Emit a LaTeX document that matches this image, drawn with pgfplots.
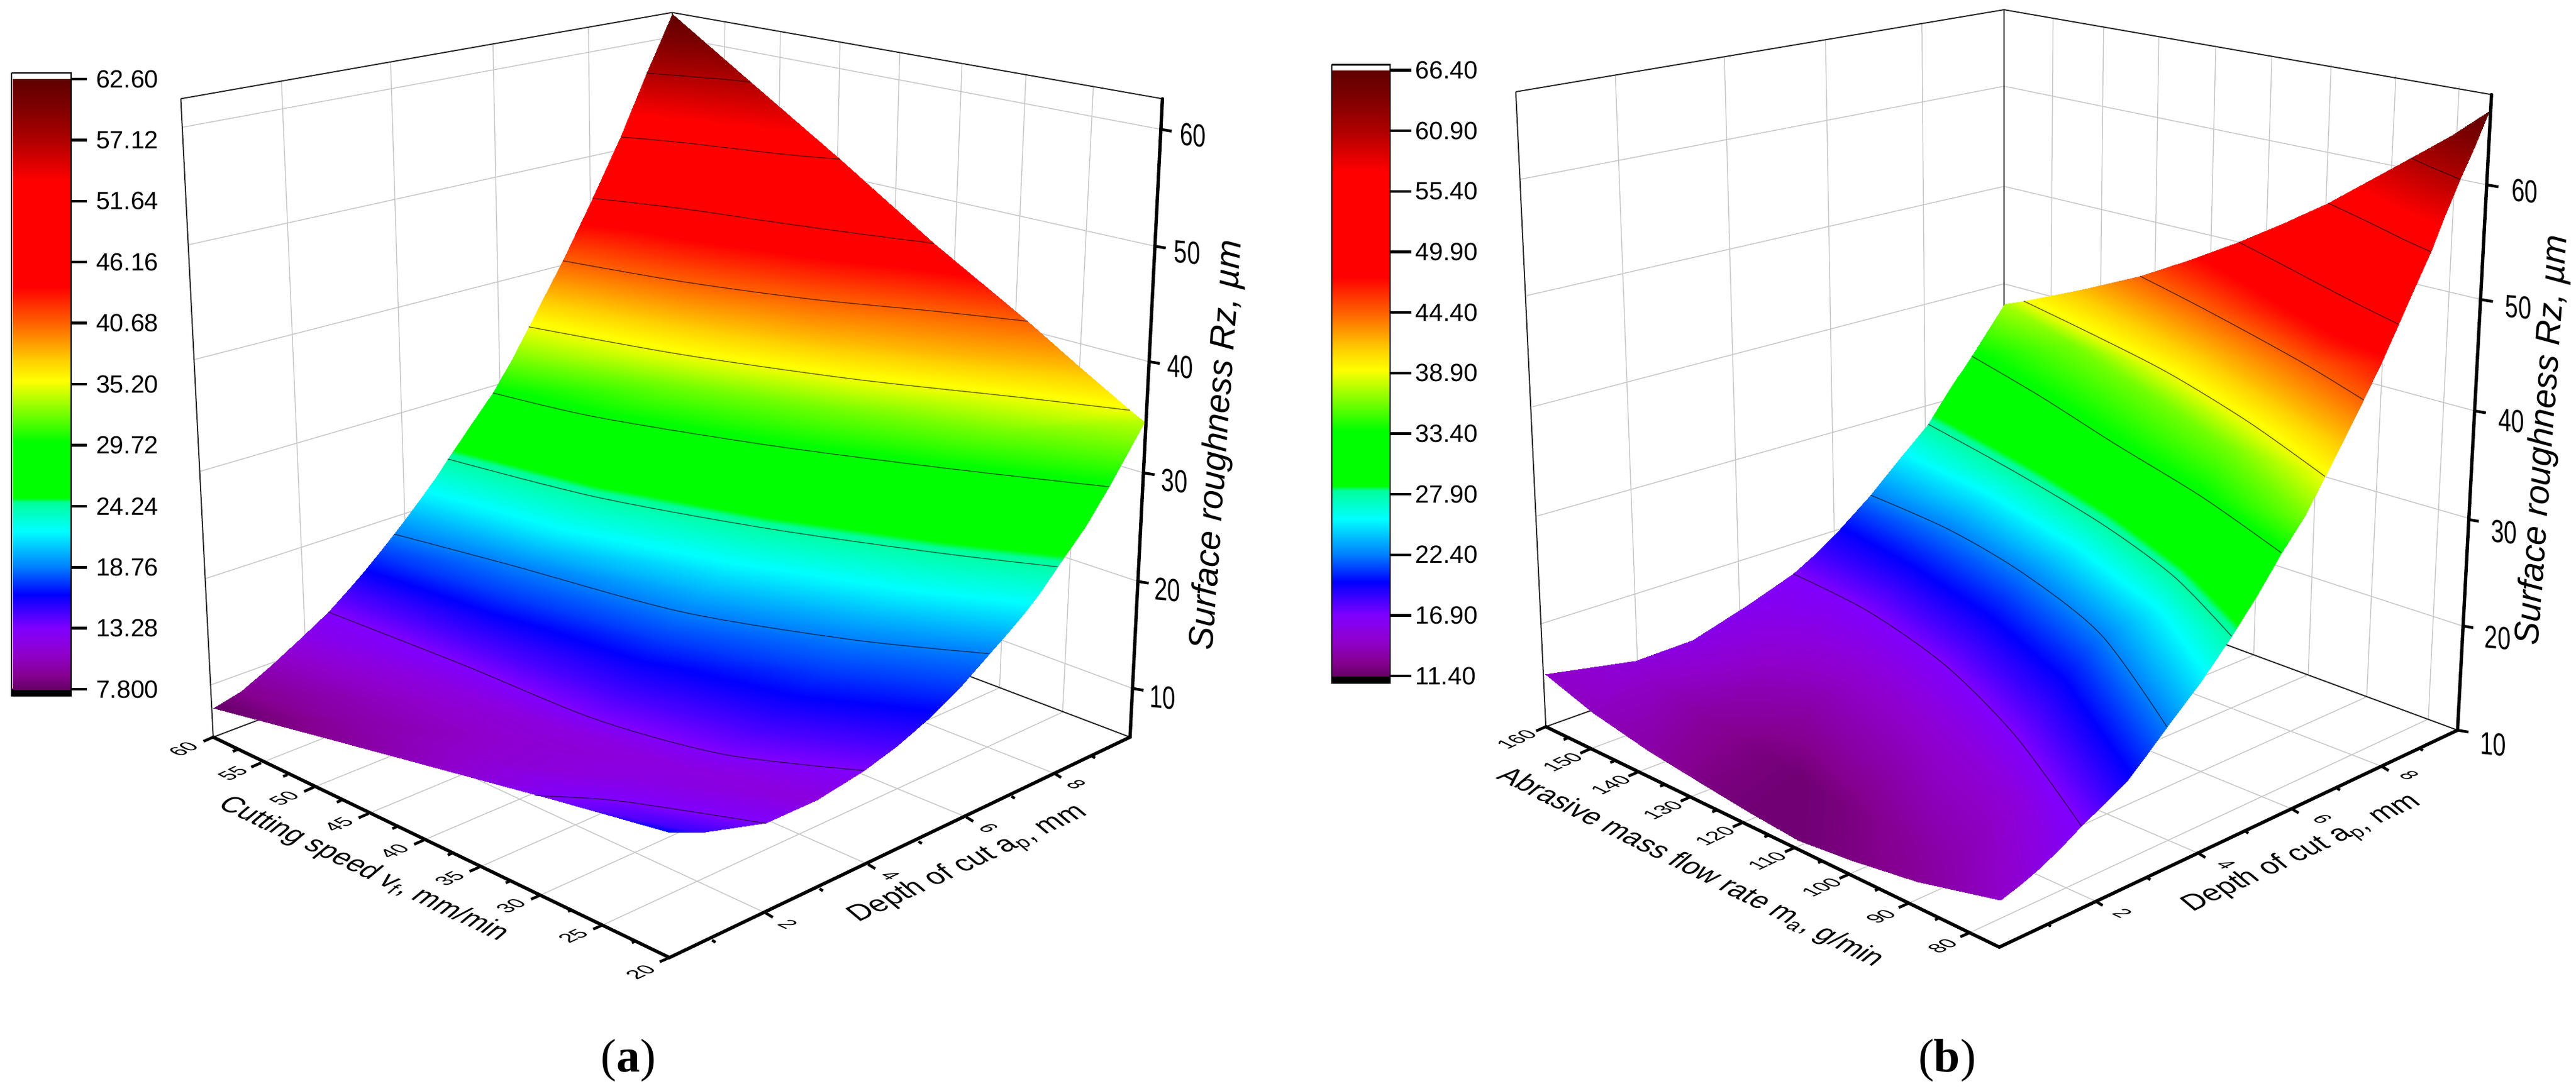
\documentclass[border=0pt]{standalone}
\usepackage{fontspec}
\setmainfont{Liberation Sans}
\newfontfamily\capfont{Liberation Serif}
\usepackage{pgfplots}
\pgfplotsset{compat=1.18}
\pgfplotsset{colormap={rz}{[1pt]
 rgb255(0pt)=(102,0,102); rgb255(12pt)=(133,0,143); rgb255(32pt)=(144,0,204); rgb255(55pt)=(128,0,255);
 rgb255(85pt)=(0,0,255); rgb255(110pt)=(0,128,255); rgb255(142pt)=(0,255,255); rgb255(168pt)=(0,255,153);
 rgb255(172pt)=(0,255,0); rgb255(222pt)=(0,255,0); rgb255(277pt)=(255,255,0); rgb255(295pt)=(255,208,0);
 rgb255(329pt)=(255,96,0); rgb255(361pt)=(255,0,0); rgb255(457pt)=(255,0,0); rgb255(493pt)=(176,0,0);
 rgb255(522pt)=(128,0,0); rgb255(548pt)=(96,0,0)}}
\pgfplotsset{panel/.style={view={0}{90},hide axis,scale only axis,clip=false,
  xmin=0,xmax=1568,ymin=0,ymax=1568,zmin=0,zmax=100,y dir=reverse,height=358.8pt,
  colormap name=rz,anchor=south west}}
\tikzset{gridl/.style={draw=black!22,line width=0.3pt},
 boxl/.style={draw=black!85,line width=0.4pt},
 axl/.style={draw=black,line width=1.1pt,line cap=round},
 tkl/.style={draw=black,line width=0.9pt},
 ctr/.style={draw=black,draw opacity=0.6,line width=0.28pt,smooth},
 cbl/.style={font=\fontsize{8.2}{10}\selectfont,anchor=west,inner sep=0pt},
 zl/.style={font=\fontsize{10}{12}\selectfont,inner sep=0pt,cm={.77,-.07,0,1.05,(0,0)}},
 vl/.style={font=\fontsize{10}{12}\selectfont,inner sep=0pt,cm={.61,.285,-.615,.293,(0,0)}},
 al/.style={font=\fontsize{10}{12}\selectfont,inner sep=0pt,cm={.605,-.289,.61,.284,(0,0)}}}
\newcommand\gl[4]{\addplot3[gridl] coordinates {(#1,#2,0)(#3,#4,0)};}
\newcommand\bl[4]{\addplot3[boxl] coordinates {(#1,#2,0)(#3,#4,0)};}
\newcommand\wl[6]{\addplot3[gridl] coordinates {(#1,#2,0)(#3,#4,0)(#5,#6,0)};}
\newcommand\tkv[2]{\draw[tkl] (axis cs:#1,#2,0) -- ++(-3.2pt,-1.4pt);}
\newcommand\tkvm[2]{\draw[tkl] (axis cs:#1,#2,0) -- ++(-1.4pt,-.6pt);}
\newcommand\tka[2]{\draw[tkl] (axis cs:#1,#2,0) -- ++(2.3pt,-1.4pt);}
\newcommand\tkam[2]{\draw[tkl] (axis cs:#1,#2,0) -- ++(1.1pt,-.7pt);}
\newcommand\tkz[2]{\draw[tkl] (axis cs:#1,#2,0) -- ++(3.6pt,-.6pt);}
\begin{document}
\begin{tikzpicture}
\useasboundingbox (0,0) rectangle (847.6pt,358.8pt);
% ---------------- panel a
\begin{axis}[panel,at={(0pt,0pt)},width=440pt,point meta min=7.8,point meta max=62.6]
\gl{330}{117}{361}{1008}\gl{458}{89}{480}{953}\gl{578}{63}{592}{901}\gl{690}{39}{697}{852}
\gl{850}{31}{843}{837}\gl{915}{45}{906}{865}\gl{985}{60}{970}{895}\gl{1055}{76}{1035}{926}
\gl{1128}{91}{1101}{956}\gl{1203}{107}{1172}{989}\gl{1282}{124}{1246}{1024}
\wl{214}{183}{788}{53}{1361}{186}\wl{221}{352}{788}{199}{1354}{354}\wl{228}{517}{788}{341}{1347}{520}
\wl{234}{678}{788}{480}{1341}{680}\wl{241}{832}{788}{613}{1334}{836}\wl{247}{985}{788}{745}{1328}{990}
\gl{306}{1097}{843}{837}\gl{368}{1132}{906}{865}\gl{432}{1170}{970}{895}\gl{497}{1208}{1035}{926}
\gl{562}{1247}{1101}{956}\gl{634}{1287}{1172}{989}\gl{707}{1330}{1246}{1024}
\gl{898}{1313}{361}{1008}\gl{1018}{1243}{480}{953}\gl{1133}{1175}{592}{901}\gl{1236}{1112}{697}{852}
\bl{212}{142}{788}{18}\bl{788}{18}{1363}{142}\bl{250}{1060}{212}{142}\bl{788}{18}{788}{810}
\bl{250}{1060}{788}{810}\bl{788}{810}{1325}{1060}
\addplot3[surf,shader=interp,mesh/cols=5] table {
250 1018 7.8
386 1063 9.2
521 1107 11
650 1150 13.5
786 1197 16.5
283 994 9
420 1040 9.8
555 1090 11.2
690 1143 13.2
822 1197 15
318 957 10.4
465 1005 10.8
610 1065 11.3
755 1125 12.2
898 1183 13.28
355 915 12.2
505 975 12
655 1045 11.9
805 1105 11.9
958 1150 11.8
385 880 13.28
545 957 13.28
700 1035 13.28
850 1085 13.28
1013 1108 13.28
405 853 14.6
560 925 14.6
725 1000 14.6
890 1050 14.6
1052 1072 14.6
424 826 16
575 890 16
750 960 16
925 1010 16
1090 1032 16
443 797 17.4
588 855 17.4
775 920 17.4
962 965 17.4
1126 988 17.4
462 768 18.76
600 813 18.76
800 880 18.76
1000 920 18.76
1160 940 18.76
478 742 20.1
625 792 20.1
825 850 20.1
1025 889 20.1
1182 910 20.1
494 716 21.5
650 770 21.5
850 820 21.5
1050 858 21.5
1203 878 21.5
510 688 22.9
675 742 22.9
875 790 22.9
1075 826 22.9
1222 847 22.9
525 660 24.24
700 715 24.24
900 760 24.24
1100 795 24.24
1240 815 24.24
552 612 27
700 657 27
900 700 27
1100 733 27
1272 758 27
578 565 29.72
700 600 29.72
900 640 29.72
1100 672 29.72
1300 700 29.72
600 517 32.5
800 555 32.5
1000 592 32.5
1170 620 32.5
1342 607 34
620 470 35.2
800 510 35.2
1000 545 35.2
1200 572 35.2
1325 590 35.2
640 422 38
800 457 38
960 488 38
1120 510 38
1265 527 38
660 375 40.68
800 405 40.68
950 430 40.68
1100 448 40.68
1205 462 40.68
695 285 46.16
800 300 46.16
900 318 46.16
1000 335 46.16
1095 350 46.16
728 197 51.64
792 204 51.64
856 213 51.64
920 222 51.64
985 229 51.64
758 105 57.12
788 108 57.12
818 111 57.12
849 114 57.12
880 118 57.12
788 20 62.6
788 20 62.6
788 20 62.6
788 20 62.6
788 20 62.6
};
\addplot3[ctr] coordinates {(627,1144,13.28)(713,1150,13.28)(800,1165,13.28)(898,1184,13.28)};
\addplot3[ctr] coordinates {(385,880,13.28)(545,957,13.28)(700,1035,13.28)(850,1085,13.28)(1013,1108,13.28)};
\addplot3[ctr] coordinates {(462,768,18.76)(600,813,18.76)(800,880,18.76)(1000,920,18.76)(1160,940,18.76)};
\addplot3[ctr] coordinates {(525,660,24.24)(700,715,24.24)(900,760,24.24)(1100,795,24.24)(1240,815,24.24)};
\addplot3[ctr] coordinates {(578,565,29.72)(700,600,29.72)(900,640,29.72)(1100,672,29.72)(1300,700,29.72)};
\addplot3[ctr] coordinates {(620,470,35.2)(800,510,35.2)(1000,545,35.2)(1200,572,35.2)(1325,590,35.2)};
\addplot3[ctr] coordinates {(660,375,40.68)(800,405,40.68)(950,430,40.68)(1100,448,40.68)(1205,462,40.68)};
\addplot3[ctr] coordinates {(695,285,46.16)(800,300,46.16)(900,318,46.16)(1000,335,46.16)(1095,350,46.16)};
\addplot3[ctr] coordinates {(728,197,51.64)(792,204,51.64)(856,213,51.64)(920,222,51.64)(985,229,51.64)};
\addplot3[ctr] coordinates {(758,105,57.12)(788,108,57.12)(818,111,57.12)(849,114,57.12)(880,118,57.12)};
\addplot3[fill=black,draw=black] coordinates {(13.5,991,0)(83.4,991,0)(83.4,1000,0)(13.5,1000,0)(13.5,991,0)};
\addplot3[surf,shader=interp,mesh/cols=2] table {
15 113.6 62.6
82 113.6 62.6
15 991.2 7.8
82 991.2 7.8
};
\addplot3[draw=black,line width=.55pt] coordinates {(13.5,105,0)(83.4,105,0)(83.4,1000,0)(13.5,1000,0)(13.5,105,0)};
\foreach \y/\t in {113.6/62.60,201.4/57.12,289.1/51.64,376.9/46.16,464.6/40.68,552.4/35.20,640.2/29.72,727.9/24.24,815.7/18.76,903.4/13.28,991.2/7.800}{
 \edef\temp{\noexpand\draw[tkl] (axis cs:83.4,\y,0) -- ++(5.2pt,0);
  \noexpand\node[cbl] at (axis cs:112,\y,0) {\t};}\temp}
\draw[axl] (axis cs:250,1060,0) -- (axis cs:785,1377,0) -- (axis cs:1325,1060,0) -- (axis cs:1363,142,0);
\tkv{250}{1060}\tkv{306}{1097}\tkv{368}{1132}\tkv{432}{1170}\tkv{497}{1208}\tkv{562}{1247}\tkv{634}{1287}\tkv{707}{1330}\tkv{785}{1377}
\tkvm{278}{1078}\tkvm{337}{1114}\tkvm{400}{1151}\tkvm{465}{1189}\tkvm{530}{1227}\tkvm{598}{1267}\tkvm{671}{1308}\tkvm{746}{1353}
\tka{898}{1313}\tka{1018}{1243}\tka{1133}{1175}\tka{1236}{1112}
\tkam{835}{1352}\tkam{961}{1278}\tkam{1077}{1210}\tkam{1186}{1145}\tkam{1280}{1087}
\tkz{1361}{186}\tkz{1354}{354}\tkz{1347}{520}\tkz{1341}{680}\tkz{1334}{836}\tkz{1328}{990}
\foreach \x/\y/\t in {1399/194/60,1392/363/50,1384/527/40,1377/692/30,1369/848/20,1363/1003/10}{
 \edef\temp{\noexpand\node[zl] at (axis cs:\x,\y,0) {\t};}\temp}
\foreach \x/\y/\t in {215/1077/60,273/1112/55,333/1148/50,397/1186/45,462/1224/40,527/1263/35,599/1303/30,672/1346/25,751/1398/20}{
 \edef\temp{\noexpand\node[vl] at (axis cs:\x,\y,0) {\t};}\temp}
\foreach \x/\y/\t in {924/1329/2,1044/1259/4,1159/1191/6,1262/1128/8}{
 \edef\temp{\noexpand\node[al] at (axis cs:\x,\y,0) {\t};}\temp}
\node[font=\fontsize{10}{12}\selectfont,inner sep=0pt,cm={.82,-.39,.72,.6,(0,0)}] at (axis cs:426,1250,0) {Cutting speed v\textsubscript{f}, mm/min};
\node[font=\fontsize{10}{12}\selectfont,inner sep=0pt,cm={.85,.40,-.72,.6,(0,0)}] at (axis cs:1136,1243,0) {Depth of cut a\textsubscript{p}, mm};
\node[font=\fontsize{11.4}{13}\selectfont\itshape,inner sep=0pt,rotate=86] at (axis cs:1428,640,0) {Surface roughness Rz, µm};
\node[font=\fontsize{15.5}{18}\selectfont\capfont,inner sep=0pt] at (axis cs:737,1525,0) {(\textbf{a})};
\end{axis}
% ---------------- panel b
\begin{axis}[panel,at={(440pt,0pt)},width=407.6pt,point meta min=11.4,point meta max=66.4]
\gl{352}{108}{381.5}{997}\gl{490}{82}{511}{944}\gl{618}{57}{631}{895}\gl{740}{34}{746}{849}
\gl{906}{26}{901}{833}\gl{970}{38}{962}{858}\gl{1040}{52}{1028}{886}\gl{1112}{65}{1094}{914}
\gl{1183}{79}{1160}{942}\gl{1258}{93}{1229}{970}\gl{1340}{108}{1303}{1002}\gl{1420}{124}{1381}{1034}
\wl{231}{258}{844}{124}{1456}{266}\wl{240}{425}{844}{268}{1449}{431}\wl{247}{585}{844}{408}{1440}{591}
\wl{253}{742}{844}{552}{1431}{745}\wl{258}{897}{844}{686}{1424}{900}
\gl{320}{1077}{901}{833}\gl{381}{1110}{962}{858}\gl{447}{1146}{1028}{886}\gl{513}{1183}{1094}{914}
\gl{579}{1219}{1160}{942}\gl{648}{1257}{1229}{970}\gl{723}{1299}{1303}{1002}\gl{801}{1341}{1381}{1034}
\gl{960}{1296}{381.5}{997}\gl{1090}{1227}{511}{944}\gl{1208}{1163}{631}{895}\gl{1322}{1102}{746}{849}
\bl{226}{132}{844}{14}\bl{844}{14}{1461}{136}\bl{264}{1045}{226}{132}\bl{844}{14}{844}{809}
\bl{264}{1045}{844}{809}\bl{844}{809}{1418}{1050}
% lower part of the surface
\addplot3[surf,shader=interp,mesh/cols=9] table {
263 969 14.6
324 1025 14.2
395 1080 13.3
466 1130 12.2
525 1170 11.8
584 1209 11.8
652 1238 12.2
735 1268 12.9
839 1294 14.5
378 950 15.2
399 981 14.4
464 1030 13.1
530 1076 12.2
587 1117 11.8
642 1158 12.1
704 1193 12.8
776 1231 13.6
867 1270 15
450 920 15.7
475 938 15.2
534 980 14
594 1022 13.3
648 1064 13.4
700 1107 13.5
756 1148 14
818 1194 14.2
890 1247 15.6
520 870 16.3
550 894 15.8
603 930 15.2
658 969 14.8
710 1011 14.8
757 1056 14.9
807 1103 15
859 1157 15.2
916 1218 16.2
577 825 16.9
625 850 16.9
672 879 16.9
722 915 16.9
771 958 16.9
815 1005 16.9
859 1059 16.9
900 1120 16.9
942 1188 16.9
};
% upper part of the surface
\addplot3[surf,shader=interp,mesh/cols=5] table {
577 825 16.9
672 879 16.9
771 958 16.9
859 1059 16.9
942 1188 16.9
605 797 18.3
700 850 18.3
795 925 18.3
887 1022 18.3
972 1155 18.3
633 765 19.65
725 822 19.65
820 892 19.65
915 985 19.65
1000 1122 19.65
655 738 21
750 792 21
845 858 21
942 949 21
1025 1085 21
675 712 22.4
775 762 22.4
869 825 22.4
967 913 22.4
1050 1045 22.4
712 660 25.15
815 715 25.15
925 790 25.15
1030 880 25.15
1093 980 25.15
748 610 27.9
860 680 27.9
970 755 27.9
1060 830 27.9
1132 915 27.9
775 560 30.65
880 622 30.65
985 690 30.65
1090 775 30.65
1165 855 30.65
803 512 33.4
890 570 33.4
984 638 33.4
1095 715 33.4
1195 795 33.4
845 437 37.3
930 495 36.3
1020 560 36.2
1125 640 36.2
1224 743 36.2
869 433 38.9
960 483 38.9
1053 537 38.9
1155 608 38.9
1250 685 38.9
943 416 41.65
1025 462 41.65
1105 510 41.65
1190 570 41.65
1275 630 41.65
1016 397 44.4
1085 437 44.4
1159 482 44.4
1230 527 44.4
1299 575 44.4
1078 374 47.15
1135 410 47.15
1190 448 47.15
1255 490 47.15
1322 521 47.15
1141 348 49.9
1192 378 49.9
1242 408 49.9
1293 438 49.9
1343 466 49.9
1196 322 52.65
1235 343 52.65
1275 362 52.65
1315 383 52.65
1363 414 52.65
1254 292 55.4
1286 309 55.4
1319 327 55.4
1351 345 55.4
1384 362 55.4
1306 260 58.15
1330 273 58.15
1350 285 58.15
1375 297 58.15
1402 310 58.15
1359 227 60.9
1374 235 60.9
1390 243 60.9
1405 250 60.9
1421 258 60.9
1410 195 63.65
1418 199 63.65
1425 203 63.65
1433 206 63.65
1440 209 63.65
1458 160 66.4
1458 160 66.4
1458 160 66.4
1458 160 66.4
1458 160 66.4
};
\addplot3[ctr] coordinates {(577,825,16.9)(672,879,16.9)(771,958,16.9)(859,1059,16.9)(942,1188,16.9)};
\addplot3[ctr] coordinates {(675,712,22.4)(775,762,22.4)(869,825,22.4)(967,913,22.4)(1050,1045,22.4)};
\addplot3[ctr] coordinates {(748,610,27.9)(860,680,27.9)(970,755,27.9)(1060,830,27.9)(1132,915,27.9)};
\addplot3[ctr] coordinates {(803,512,33.4)(890,570,33.4)(984,638,33.4)(1095,715,33.4)(1195,795,33.4)};
\addplot3[ctr] coordinates {(869,433,38.9)(960,483,38.9)(1053,537,38.9)(1155,608,38.9)(1250,685,38.9)};
\addplot3[ctr] coordinates {(1016,397,44.4)(1085,437,44.4)(1159,482,44.4)(1230,527,44.4)(1299,575,44.4)};
\addplot3[ctr] coordinates {(1141,348,49.9)(1192,378,49.9)(1242,408,49.9)(1293,438,49.9)(1343,466,49.9)};
\addplot3[ctr] coordinates {(1254,292,55.4)(1286,309,55.4)(1319,327,55.4)(1351,345,55.4)(1384,362,55.4)};
\addplot3[ctr] coordinates {(1359,227,60.9)(1374,235,60.9)(1390,243,60.9)(1405,250,60.9)(1421,258,60.9)};
\addplot3[fill=black,draw=black] coordinates {(-7,972,0)(67,972,0)(67,982,0)(-7,982,0)(-7,972,0)};
\addplot3[surf,shader=interp,mesh/cols=2] table {
-6 101 66.4
66 101 66.4
-6 972 11.4
66 972 11.4
};
\addplot3[draw=black,line width=.55pt] coordinates {(-7,93,0)(67,93,0)(67,982,0)(-7,982,0)(-7,93,0)};
\foreach \y/\t in {101/66.40,188.1/60.90,275.2/55.40,362.3/49.90,449.4/44.40,536.5/38.90,623.6/33.40,710.7/27.90,797.8/22.40,884.9/16.90,972/11.40}{
 \edef\temp{\noexpand\draw[tkl] (axis cs:67,\y,0) -- ++(5.2pt,0);
  \noexpand\node[cbl] at (axis cs:98,\y,0) {\t};}\temp}
\draw[axl] (axis cs:264,1045,0) -- (axis cs:838,1362,0) -- (axis cs:1418,1050,0) -- (axis cs:1461,136,0);
\tkv{264}{1045}\tkv{320}{1077}\tkv{381}{1110}\tkv{447}{1146}\tkv{513}{1183}\tkv{579}{1219}\tkv{648}{1257}\tkv{723}{1299}\tkv{801}{1341}
\tkvm{292}{1061}\tkvm{351}{1094}\tkvm{414}{1128}\tkvm{480}{1165}\tkvm{546}{1201}\tkvm{614}{1238}\tkvm{686}{1278}\tkvm{762}{1320}
\tka{960}{1296}\tka{1090}{1227}\tka{1208}{1163}\tka{1322}{1102}
\tkam{899}{1329}\tkam{1025}{1262}\tkam{1149}{1195}\tkam{1265}{1133}\tkam{1370}{1076}
\tkz{1456}{266}\tkz{1449}{431}\tkz{1440}{591}\tkz{1431}{747}\tkz{1424}{900}\tkz{1418}{1050}
\foreach \x/\y/\t in {1496/275/60,1488/442/50,1479/605/40,1470/765/30,1462/917/20,1456/1070/10}{
 \edef\temp{\noexpand\node[zl] at (axis cs:\x,\y,0) {\t};}\temp}
\foreach \x/\y/\t in {220/1063/160,278/1096/150,339/1129/140,405/1165/130,471/1202/120,537/1238/110,606/1276/100,681/1318/90,759/1360/80}{
 \edef\temp{\noexpand\node[vl] at (axis cs:\x,\y,0) {\t};}\temp}
\foreach \x/\y/\t in {987/1313/2,1118/1243/4,1240/1178/6,1350/1115/8}{
 \edef\temp{\noexpand\node[al] at (axis cs:\x,\y,0) {\t};}\temp}
\node[font=\fontsize{10}{12}\selectfont,inner sep=0pt,cm={.82,-.41,.72,.6,(0,0)}] at (axis cs:440,1248,0) {Abrasive mass flow rate m\textsubscript{a}, g/min};
\node[font=\fontsize{10}{12}\selectfont,inner sep=0pt,cm={.85,.40,-.72,.6,(0,0)}] at (axis cs:1215,1228,0) {Depth of cut a\textsubscript{p}, mm};
\node[font=\fontsize{11.4}{13}\selectfont\itshape,inner sep=0pt,rotate=86] at (axis cs:1527,633,0) {Surface roughness Rz, µm};
\node[font=\fontsize{15.5}{18}\selectfont\capfont,inner sep=0pt] at (axis cs:772,1525,0) {(\textbf{b})};
\end{axis}
\end{tikzpicture}
\end{document}
